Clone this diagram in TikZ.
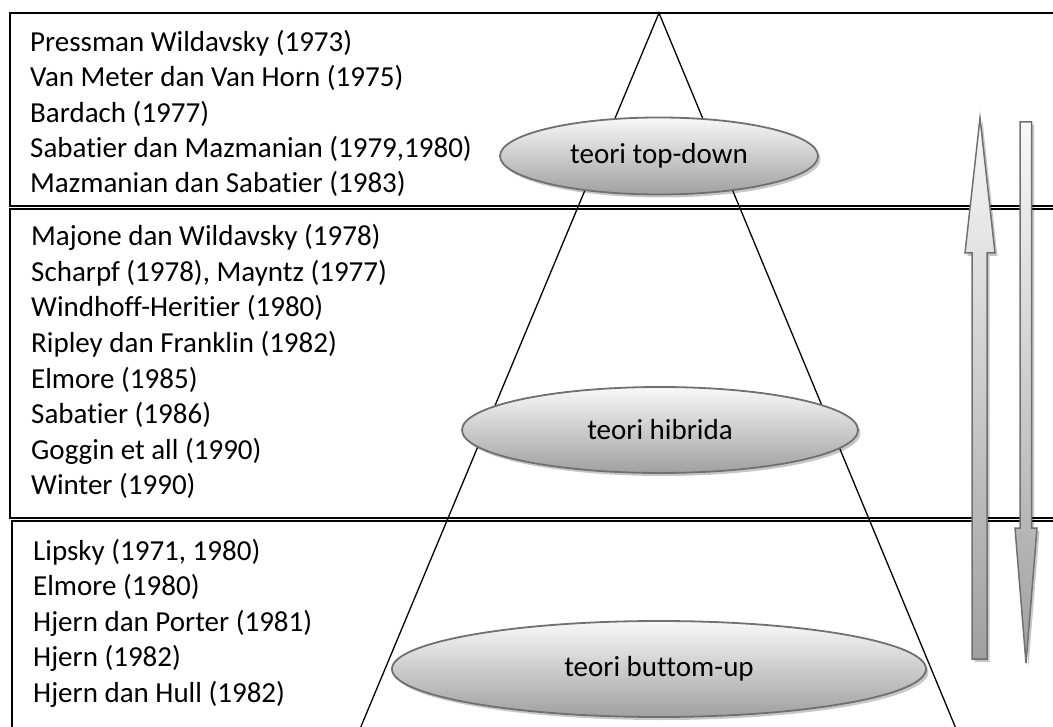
\documentclass[tikz,border=0pt]{standalone}
\usepackage{fontspec}
\setmainfont{Carlito}[Ligatures=NoCommon]
\usetikzlibrary{shapes.geometric,shadows}
\definecolor{rim}{HTML}{707070}
\definecolor{shadelo}{HTML}{A0A0A0}
\definecolor{shadehi}{HTML}{F8F8F8}
\begin{document}
\begin{tikzpicture}[x=1pt,y=-1pt,
  lbl/.style={anchor=base west,inner sep=0pt,font=\fontsize{29}{35}\selectfont},
  band/.style={draw=black,line width=1.6pt},
  cone/.style={draw=black,line width=1.3pt},
  softshadow/.style={drop shadow={shadow xshift=2.5pt,shadow yshift=-3pt,fill=black,opacity=0.22}},
  disc/.style={ellipse,draw=rim,line width=1.8pt,top color=shadehi,bottom color=shadelo,
    inner sep=0pt,font=\fontsize{29}{35}\selectfont,softshadow},
  flow/.style={draw=rim,line width=1.5pt,top color=shadehi,bottom color=shadelo,softshadow}
]
\useasboundingbox (0,0) rectangle (1053,727);
\clip (0,0) rectangle (1053,727);

% three bands
\draw[band] (10,13) rectangle (1070,206);
\draw[band] (10,209) rectangle (1070,518);
\draw[band] (12,521) rectangle (1070,760);

% the cone
\coordinate (apex) at (659,13);
\coordinate (bl) at (347,760);
\coordinate (br) at (969,760);
\draw[cone] (bl) -- (apex) -- (br);

% authors, top-down
\foreach \txt [count=\i] in {{Pressman Wildavsky (1973)},{Van Meter dan Van Horn (1975)},
  {Bardach (1977)},{Sabatier dan Mazmanian (1979,1980)},{Mazmanian dan Sabatier (1983)}}
  \node[lbl] (top\i) at (30,{51.7+35.3*(\i-1)}) {\txt};

% authors, hybrid
\foreach \txt [count=\i] in {{Majone dan Wildavsky (1978)},{Scharpf (1978), Mayntz (1977)},
  {Windhoff-Heritier (1980)},{Ripley dan Franklin (1982)},{Elmore (1985)},
  {Sabatier (1986)},{Goggin et all (1990)},{Winter (1990)}}
  \node[lbl] (mid\i) at (31,{245.7+35.6*(\i-1)}) {\txt};

% authors, bottom-up
\foreach \txt [count=\i] in {{Lipsky (1971, 1980)},{Elmore (1980)},
  {Hjern dan Porter (1981)},{Hjern (1982)},{Hjern dan Hull (1982)}}
  \node[lbl] (low\i) at (33,{560+35.5*(\i-1)}) {\txt};

% theory labels
\node[disc,minimum width=318pt,minimum height=77pt] (topdown) at (659,156) {teori top-down};
\node[disc,minimum width=396pt,minimum height=86pt] (hybrid) at (660,430) {teori hibrida};
\node[disc,minimum width=534pt,minimum height=96pt] (bottomup) at (659,669) {teori buttom-up};

% direction arrows
\path[flow] (980,118) -- (995,253) -- (987,253) -- (987,659) -- (972,659)
  -- (972,253) -- (965,253) -- cycle;
\path[flow] (1020,122) -- (1031.5,122) -- (1031.5,528) -- (1037,528) -- (1026,663)
  -- (1015,528) -- (1020,528) -- cycle;
\end{tikzpicture}
\end{document}
